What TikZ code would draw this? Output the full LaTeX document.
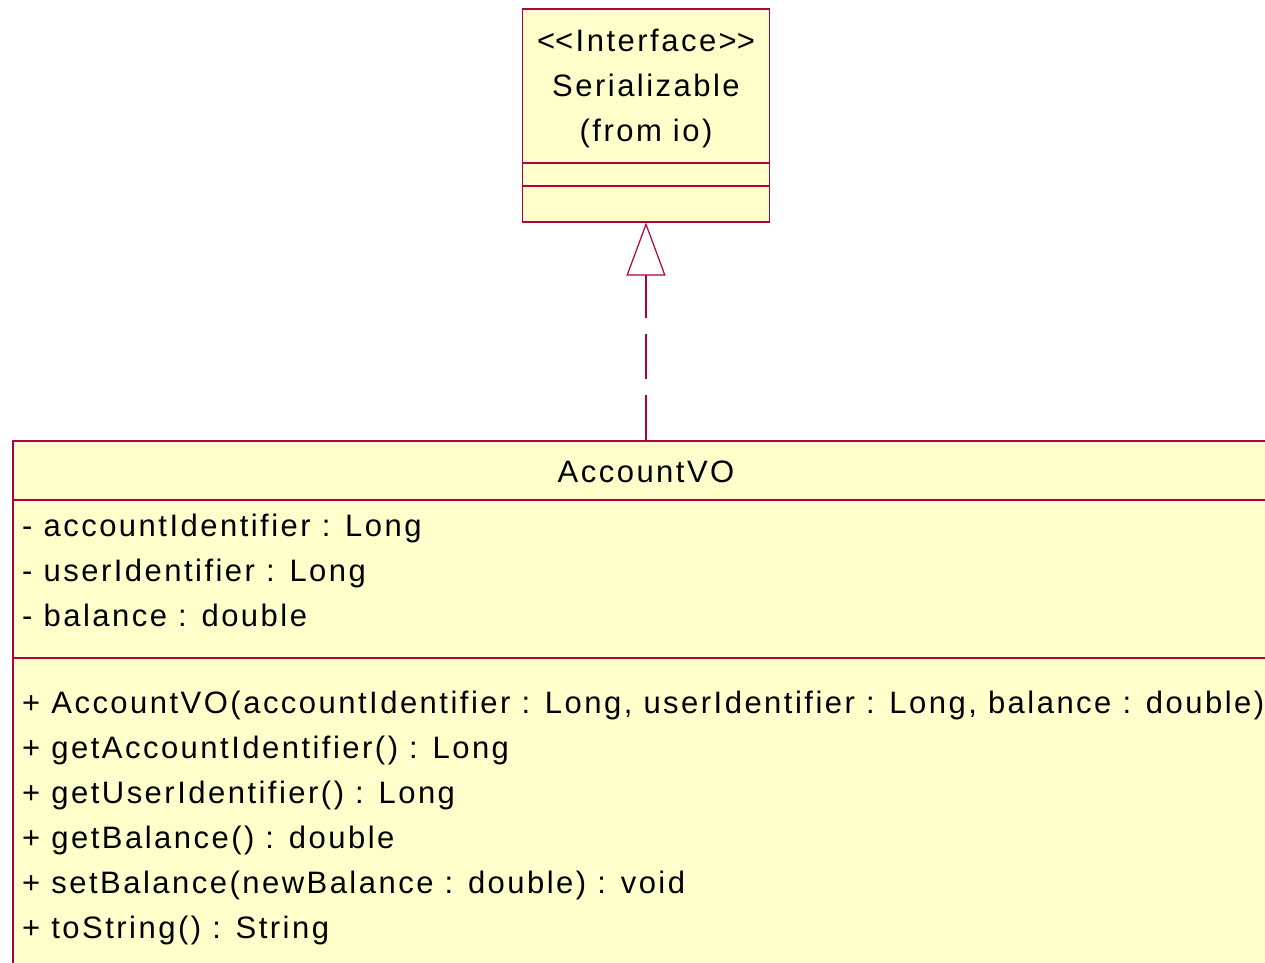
\documentclass[tikz,border=0pt]{standalone}
\usepackage{fontspec}
\setmainfont{Liberation Sans}[LetterSpace=8]
\usetikzlibrary{arrows.meta, positioning}
\definecolor{roseline}{RGB}{176,0,64}
\definecolor{rosefill}{RGB}{255,255,204}

\begin{document}
\begin{tikzpicture}[x=1pt, y=-1pt, >=Stealth, node distance=45pt, on grid,
    classbox/.style={draw=roseline, fill=rosefill, line width=1.2pt, inner sep=0pt},
    member/.style={inner sep=0pt, anchor=base west, font=\fontsize{31}{37}\selectfont},
    title/.style={inner sep=0pt, anchor=base, font=\fontsize{31}{37}\selectfont},
    divider/.style={draw=roseline, line width=1.2pt},
    realize/.style={draw=roseline, line width=1.2pt, dash pattern=on 45pt off 16pt,
        -{Triangle[open, length=53pt, width=39pt]}}]

        \useasboundingbox (0,0) rectangle (1265,962);
        \clip (0,0) rectangle (1265,962);

        % Interface
        \node (serial) [classbox, minimum width=247pt, minimum height=213pt] at (646,115.5) {};
        \draw[divider] (serial.west |- 0,163) -- (serial.east |- 0,163);
        \draw[divider] (serial.west |- 0,186) -- (serial.east |- 0,186);
        \node (stereo) [title] at (646,51) {<\kern0pt<Interface>\kern0pt>};
        \node (sername) [title, below=of stereo.base, anchor=base] {Serializable};
        \node (package) [title, below=of sername.base, anchor=base] {(from io)};

        % Class
        \node (account) [classbox, minimum width=1266pt, minimum height=544pt] at (646,713) {};
        \draw[divider] (account.west |- 0,500) -- (account.east |- 0,500);
        \draw[divider] (account.west |- 0,658) -- (account.east |- 0,658);
        \node (accname) [title] at (646,482) {AccountVO};

        % Attributes
        \node (a1) [member] at (22,536) {- accountIdentifier : Long};
        \node (a2) [member, below=of a1.base west, anchor=base west] {- userIdentifier : Long};
        \node (a3) [member, below=of a2.base west, anchor=base west] {- balance : double};

        % Operations
        \node (m1) [member] at (22,713) {+ AccountVO(accountIdentifier : Long, userIdentifier : Long, balance : double)};
        \node (m2) [member, below=of m1.base west, anchor=base west] {+ getAccountIdentifier() : Long};
        \node (m3) [member, below=of m2.base west, anchor=base west] {+ getUserIdentifier() : Long};
        \node (m4) [member, below=of m3.base west, anchor=base west] {+ getBalance() : double};
        \node (m5) [member, below=of m4.base west, anchor=base west] {+ setBalance(newBalance : double) : void};
        \node (m6) [member, below=of m5.base west, anchor=base west] {+ toString() : String};

        % Realization
        \draw[realize] (account.north) -- (serial.south);

\end{tikzpicture}
\end{document}
